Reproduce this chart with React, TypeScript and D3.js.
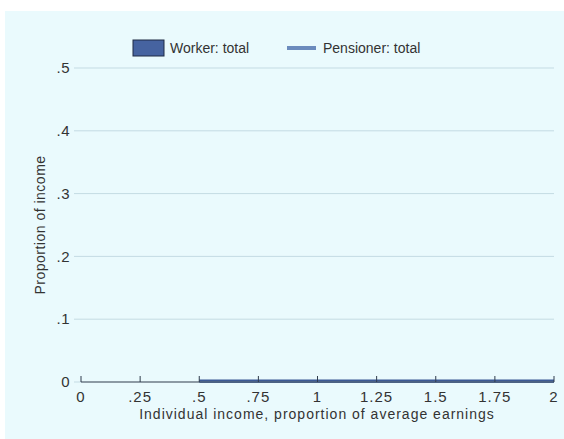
import React from "react";
import * as d3 from "d3";

const xTicks = [0, 0.25, 0.5, 0.75, 1, 1.25, 1.5, 1.75, 2];
const xTickLabels = ["0", ".25", ".5", ".75", "1", "1.25", "1.5", "1.75", "2"];
const yTicks = [0, 0.1, 0.2, 0.3, 0.4, 0.5];
const yTickLabels = ["0", ".1", ".2", ".3", ".4", ".5"];

const workerBinStart = [0.5, 0.75, 1, 1.25, 1.5, 1.75];
const workerBinWidth = 0.25;
const workerTotal = [0.004, 0.004, 0.004, 0.004, 0.004, 0.004];

const pensionerX = [0.5, 2];
const pensionerTotal = [0, 0];

const W = 564;
const H = 439;

export default function App() {
  const x = d3.scaleLinear().domain([0, 2]).range([81, 554]);
  const y = d3.scaleLinear().domain([0, 0.5]).range([382, 68]);
  const line = d3
    .line<number>()
    .x((_, i) => x(pensionerX[i]))
    .y((d) => y(d));
  const font = "Liberation Sans, Arial, sans-serif";
  const textColor = "#333333";
  return (
    <svg
      width={W}
      height={H}
      style={{ position: "absolute", left: 0, top: 0, display: "block" }}
    >
      <rect x={0} y={0} width={W} height={H} fill="#ffffff" />
      <rect x={5} y={11} width={W - 5} height={H - 11} fill="#eafafd" />
      {yTicks.slice(1).map((t) => (
        <line
          key={"g" + t}
          x1={x(0)}
          x2={x(2)}
          y1={y(t)}
          y2={y(t)}
          stroke="#c4dbe3"
          strokeWidth={1}
        />
      ))}
      {yTicks.map((t, i) => (
        <g key={"yt" + t}>
          <line x1={74} x2={x(0)} y1={y(t)} y2={y(t)} stroke="#c4dbe3" strokeWidth={1} />
          <text
            x={70}
            y={y(t)}
            dy="0.35em"
            textAnchor="end"
            fontFamily={font}
            fontSize={15}
            letterSpacing={0.5}
            fill={textColor}
          >
            {yTickLabels[i]}
          </text>
        </g>
      ))}
      {workerBinStart.map((b, i) => (
        <rect
          key={"b" + b}
          x={x(b)}
          y={y(workerTotal[i])}
          width={x(b + workerBinWidth) - x(b)}
          height={y(0) - y(workerTotal[i])}
          fill="#3d5a96"
        />
      ))}
      <path
        d={line(pensionerTotal) || ""}
        fill="none"
        stroke="#6b8bbd"
        strokeWidth={2}
      />
      <line x1={x(0)} x2={x(2)} y1={y(0)} y2={y(0)} stroke="#2f3b4c" strokeWidth={1.2} />
      {xTicks.map((t, i) => (
        <g key={"xt" + t}>
          <line x1={x(t)} x2={x(t)} y1={y(0)} y2={y(0) - 6} stroke="#2f3b4c" strokeWidth={1} />
          <text
            x={x(t)}
            y={397}
            dy="0.35em"
            textAnchor="middle"
            fontFamily={font}
            fontSize={15}
            letterSpacing={1}
            fill={textColor}
          >
            {xTickLabels[i]}
          </text>
        </g>
      ))}
      <text
        x={317}
        y={414}
        dy="0.35em"
        textAnchor="middle"
        fontFamily={font}
        fontSize={14}
        letterSpacing={1}
        fill={textColor}
      >
        Individual income, proportion of average earnings
      </text>
      <text
        transform={`translate(40,${(y(0) + y(0.5)) / 2}) rotate(-90)`}
        textAnchor="middle"
        dy="0.35em"
        fontFamily={font}
        fontSize={14}
        letterSpacing={0.5}
        fill={textColor}
      >
        Proportion of income
      </text>
      <rect x={133} y={40} width={31} height={16} fill="#4663a0" stroke="#1e2a44" strokeWidth={1} />
      <text x={170} y={48} dy="0.35em" fontFamily={font} fontSize={14} fill={textColor}>
        Worker: total
      </text>
      <line x1={287} x2={316} y1={48} y2={48} stroke="#6b8bbd" strokeWidth={4} />
      <text x={323} y={48} dy="0.35em" fontFamily={font} fontSize={14} fill={textColor}>
        Pensioner: total
      </text>
    </svg>
  );
}
